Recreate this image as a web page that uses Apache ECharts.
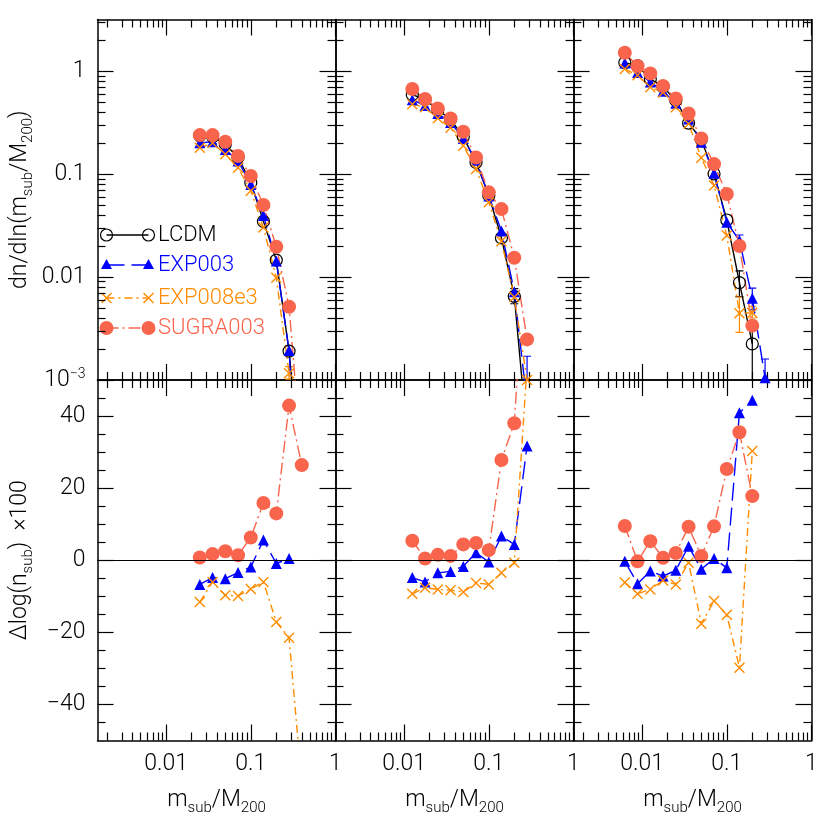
<!DOCTYPE html>
<html>
<head>
<meta charset="utf-8">
<script src="https://cdn.jsdelivr.net/npm/echarts@6/dist/echarts.min.js"></script>
<style>
html, body { margin: 0; padding: 0; background: #fff; }
#chart { width: 830px; height: 830px; }
</style>
</head>
<body>
<div id="chart"></div>
<script>
// mass bins m_sub/M200 for the three haloes
const xLeft = [0.025, 0.0354, 0.05, 0.0707, 0.1, 0.141, 0.2, 0.283, 0.4];
const xMid = [0.0125, 0.0177, 0.025, 0.0354, 0.05, 0.0707, 0.1, 0.141, 0.2, 0.283];
const xRight = [0.00625, 0.00884, 0.0125, 0.0177, 0.025, 0.0354, 0.05, 0.0707, 0.1, 0.141, 0.2, 0.283];

// dn/dln(m_sub/M200), top row
const lcdmL = [0.235, 0.230, 0.195, 0.145, 0.0828, 0.0347, 0.0146, 0.00191, 0.000088];
const exp003L = [0.201, 0.206, 0.173, 0.134, 0.0792, 0.0395, 0.0143, 0.00193, 0.00002];
const exp008L = [0.180, 0.200, 0.156, 0.115, 0.0689, 0.0302, 0.00984, 0.00116, 0.000021];
const sugraL = [0.239, 0.239, 0.206, 0.150, 0.0957, 0.050, 0.0197, 0.00515, 0.00016];

const lcdmM = [0.59, 0.53, 0.42, 0.34, 0.23, 0.13, 0.062, 0.024, 0.0065, 0.00029];
const exp003M = [0.528, 0.462, 0.388, 0.317, 0.221, 0.136, 0.0613, 0.028, 0.0072, 0.0006];
const exp008M = [0.476, 0.445, 0.349, 0.281, 0.188, 0.112, 0.0531, 0.0222, 0.0064, 0.001];
const sugraM = [0.669, 0.535, 0.434, 0.347, 0.258, 0.145, 0.0664, 0.0457, 0.0154, 0.00248];

const lcdmR = [1.21, 1.126, 0.840, 0.704, 0.519, 0.313, 0.216, 0.1006, 0.0358, 0.00883, 0.00224];
const exp003R = [1.20, 0.970, 0.784, 0.636, 0.487, 0.342, 0.204, 0.102, 0.0341, 0.0226, 0.00623, 0.00105];
const exp008R = [1.049, 0.909, 0.697, 0.619, 0.445, 0.308, 0.144, 0.0776, 0.0253, 0.00444, 0.0045];
const sugraR = [1.506, 1.118, 0.949, 0.715, 0.543, 0.388, 0.222, 0.125, 0.064, 0.020, 0.00337];

// error bars [x, low, high]
const errLcdmM = [[0.2, 0.0055, 0.0077]];
const errExp003M = [[0.283, 0.0002, 0.0017]];
const errExp008L = [[0.283, 0.00102, 0.00135]];
const errLcdmR = [[0.141, 0.00644, 0.0115], [0.2, 0.0006, 0.0037]];
const errExp003R = [[0.141, 0.019, 0.0256], [0.2, 0.0048, 0.0078], [0.283, 0.0004, 0.0016]];
const errExp008R = [[0.141, 0.0029, 0.0064], [0.2, 0.0040, 0.0052]];

// Delta log(n_sub) x 100, bottom row
const dExp003L = [-6.7, -4.8, -5.1, -3.4, -1.9, 5.6, -0.9, 0.5];
const dExp008L = [-11.6, -6.0, -9.7, -9.9, -8.0, -6.0, -17.1, -21.5, -62];
const dSugraL = [0.75, 1.7, 2.5, 1.4, 6.3, 15.9, 13.0, 42.9, 26.4];

const dExp003M = [-4.8, -6.0, -3.5, -3.1, -1.7, 2.1, -0.5, 6.7, 4.4, 31.7];
const dExp008M = [-9.3, -7.6, -8.1, -8.3, -8.8, -6.3, -6.7, -3.5, -0.7, 54];
const dSugraM = [5.4, 0.5, 1.5, 1.2, 4.4, 4.8, 2.8, 27.8, 38.0, 93];

const dExp003R = [-0.3, -6.5, -3.0, -4.4, -2.8, 3.9, -2.5, 0.5, -2.1, 40.9, 44.4];
const dExp008R = [-6.2, -9.3, -8.1, -5.6, -6.7, -0.7, -17.6, -11.3, -15.1, -29.8, 30.3];
const dSugraR = [9.5, -0.3, 5.3, 0.7, 2.0, 9.3, 1.2, 9.4, 25.3, 35.5, 17.8];

// ticks
const xMajorTicks = [0.01, 0.1, 1];
const xMinorTicks = [0.002, 0.003, 0.004, 0.005, 0.006, 0.007, 0.008, 0.009,
  0.02, 0.03, 0.04, 0.05, 0.06, 0.07, 0.08, 0.09,
  0.2, 0.3, 0.4, 0.5, 0.6, 0.7, 0.8, 0.9];
const yLogMajor = [0.001, 0.01, 0.1, 1];
const yLogMinor = [0.002, 0.003, 0.004, 0.005, 0.006, 0.007, 0.008, 0.009,
  0.02, 0.03, 0.04, 0.05, 0.06, 0.07, 0.08, 0.09,
  0.2, 0.3, 0.4, 0.5, 0.6, 0.7, 0.8, 0.9, 2, 3];
const yLinMajor = [-40, -20, 0, 20, 40];
const yLinMinor = [-45, -35, -30, -25, -15, -10, -5, 5, 10, 15, 25, 30, 35, 45];

const FONT = 'Roboto';
const FW = 300;
const C_LCDM = '#000000', C_EXP003 = '#0000ff', C_EXP008 = '#ff8c00', C_SUGRA = '#f9654c';

const lefts = [97.5, 335.5, 573.5];
const W = 238;
const tops = [19.5, 380];
const H = 360.5;

const grids = [];
for (let r = 0; r < 2; r++) for (let c = 0; c < 3; c++) {
  grids.push({ left: lefts[c], top: tops[r], width: W, height: H });
}

const frame = { show: true, onZero: false, lineStyle: { color: '#000', width: 1.5 } };
const noLine = { show: false, onZero: false };
const tickStyle = { color: '#000', width: 1.2 };
const subRich = {
  a: { fontSize: 23, fontFamily: FONT, fontWeight: FW, color: '#000' },
  s: { fontSize: 15, fontFamily: FONT, fontWeight: FW, color: '#000', padding: [16, 0, 0, 0] }
};

function fmtX(v) {
  if (v > 0.5) return '1';
  if (v > 0.05) return '0.1';
  return '0.01';
}
function fmtYLog(v) {
  if (v > 0.5) return '1';
  if (v > 0.05) return '0.1';
  if (v > 0.005) return '0.01';
  return '{b|10}{p|−3}';
}
function fmtYLin(v) {
  return v < 0 ? '−' + (-v) : String(v);
}

const xAxes = [], yAxes = [];
grids.forEach((g, gi) => {
  const row = gi < 3 ? 0 : 1, col = gi % 3;
  const xb = { type: 'log', gridIndex: gi, min: 0.00155, max: 1, splitLine: { show: false } };
  xAxes.push({
    ...xb, position: 'bottom', axisLine: frame,
    axisTick: { inside: true, length: 16, customValues: xMajorTicks, lineStyle: tickStyle },
    axisLabel: { show: row === 1, customValues: xMajorTicks, formatter: fmtX, margin: 12,
      fontSize: 23, fontFamily: FONT, fontWeight: FW, color: '#000' },
    name: row === 1 ? '{a|m}{s|sub}{a|/M}{s|200}' : '',
    nameLocation: 'middle', nameGap: 44, nameTextStyle: { rich: subRich }
  });
  xAxes.push({
    ...xb, position: 'bottom', axisLine: noLine,
    axisTick: { inside: true, length: 8, customValues: xMinorTicks, lineStyle: tickStyle },
    axisLabel: { show: false }
  });
  xAxes.push({
    ...xb, position: 'top', axisLine: frame,
    axisTick: { inside: true, length: 16, customValues: xMajorTicks, lineStyle: tickStyle },
    axisLabel: { show: false }
  });
  xAxes.push({
    ...xb, position: 'top', axisLine: noLine,
    axisTick: { inside: true, length: 8, customValues: xMinorTicks, lineStyle: tickStyle },
    axisLabel: { show: false }
  });

  const yb = row === 0
    ? { type: 'log', gridIndex: gi, min: 0.001, max: 3.17, splitLine: { show: false } }
    : { type: 'value', gridIndex: gi, min: -50, max: 50, splitLine: { show: false } };
  const major = row === 0 ? yLogMajor : yLinMajor;
  const minor = row === 0 ? yLogMinor : yLinMinor;
  yAxes.push({
    ...yb, position: 'left', axisLine: frame,
    axisTick: { inside: true, length: 16, customValues: major, lineStyle: tickStyle },
    axisLabel: { show: col === 0, customValues: major, formatter: row === 0 ? fmtYLog : fmtYLin,
      margin: 12, fontSize: 23, fontFamily: FONT, fontWeight: FW, color: '#000',
      rich: { b: { fontSize: 23, fontFamily: FONT, fontWeight: FW, color: '#000' },
              p: { fontSize: 14, fontFamily: FONT, fontWeight: FW, color: '#000', padding: [0, 0, 12, 0] } } },
    name: col !== 0 ? '' : (row === 0
      ? '{a|dn/dln(m}{s|sub}{a|/M}{s|200}{a|)}'
      : '{a|Δlog(n}{s|sub}{a|)  ×100}'),
    nameLocation: 'middle', nameRotate: 90, nameGap: 62, nameTextStyle: { rich: subRich }
  });
  yAxes.push({
    ...yb, position: 'left', axisLine: noLine,
    axisTick: { inside: true, length: 8, customValues: minor, lineStyle: tickStyle },
    axisLabel: { show: false }
  });
  yAxes.push({
    ...yb, position: 'right', axisLine: frame,
    axisTick: { inside: true, length: 16, customValues: major, lineStyle: tickStyle },
    axisLabel: { show: false }
  });
  yAxes.push({
    ...yb, position: 'right', axisLine: noLine,
    axisTick: { inside: true, length: 8, customValues: minor, lineStyle: tickStyle },
    axisLabel: { show: false }
  });
});

const styles = {
  LCDM: { symbol: 'circle', symbolSize: 12,
    itemStyle: { color: 'rgba(0,0,0,0)', borderColor: C_LCDM, borderWidth: 1.2 },
    lineStyle: { color: C_LCDM, width: 1.4, type: 'solid' } },
  EXP003: { symbol: 'triangle', symbolSize: 11,
    itemStyle: { color: C_EXP003 },
    lineStyle: { color: C_EXP003, width: 1.4, type: [18, 7] } },
  EXP008e3: { symbol: 'path://M0,0L10,10M10,0L0,10', symbolSize: 10,
    itemStyle: { color: C_EXP008, borderColor: C_EXP008, borderWidth: 1.4 },
    lineStyle: { color: C_EXP008, width: 1.4, type: [8, 4, 2, 4] } },
  SUGRA003: { symbol: 'circle', symbolSize: 14,
    itemStyle: { color: C_SUGRA },
    lineStyle: { color: C_SUGRA, width: 1.4, type: [12, 4, 2, 4] } }
};

const series = [];
function addLine(name, gi, xs, ys) {
  series.push({
    type: 'line', name, xAxisIndex: 4 * gi, yAxisIndex: 4 * gi,
    data: ys.map((y, i) => [xs[i], y]), clip: true, animation: false,
    ...styles[name]
  });
}
function addErr(gi, errs, color) {
  series.push({
    type: 'custom', xAxisIndex: 4 * gi, yAxisIndex: 4 * gi, clip: true, animation: false,
    data: errs, encode: { x: 0, y: [1, 2] },
    renderItem(params, api) {
      const lo = api.coord([api.value(0), api.value(1)]);
      const hi = api.coord([api.value(0), api.value(2)]);
      const st = { stroke: color, lineWidth: 1.2 };
      return { type: 'group', children: [
        { type: 'line', shape: { x1: lo[0], y1: lo[1], x2: hi[0], y2: hi[1] }, style: st },
        { type: 'line', shape: { x1: lo[0] - 4, y1: lo[1], x2: lo[0] + 4, y2: lo[1] }, style: st },
        { type: 'line', shape: { x1: hi[0] - 4, y1: hi[1], x2: hi[0] + 4, y2: hi[1] }, style: st }
      ] };
    }
  });
}

// top row
addErr(0, errExp008L, C_EXP008);
addLine('LCDM', 0, xLeft, lcdmL);
addLine('EXP003', 0, xLeft, exp003L);
addLine('EXP008e3', 0, xLeft, exp008L);
addLine('SUGRA003', 0, xLeft, sugraL);

addErr(1, errLcdmM, C_LCDM);
addErr(1, errExp003M, C_EXP003);
addLine('LCDM', 1, xMid, lcdmM);
addLine('EXP003', 1, xMid, exp003M);
addLine('EXP008e3', 1, xMid, exp008M);
addLine('SUGRA003', 1, xMid, sugraM);

addErr(2, errLcdmR, C_LCDM);
addErr(2, errExp003R, C_EXP003);
addErr(2, errExp008R, C_EXP008);
addLine('LCDM', 2, xRight, lcdmR);
addLine('EXP003', 2, xRight, exp003R);
addLine('EXP008e3', 2, xRight, exp008R);
addLine('SUGRA003', 2, xRight, sugraR);

// bottom row
[[3, xLeft, dExp003L, dExp008L, dSugraL],
 [4, xMid, dExp003M, dExp008M, dSugraM],
 [5, xRight, dExp003R, dExp008R, dSugraR]].forEach(([gi, xs, a, b, s]) => {
  addLine('EXP003', gi, xs, a);
  series[series.length - 1].markLine = {
    silent: true, symbol: 'none', animation: false, label: { show: false },
    lineStyle: { color: '#000', type: 'solid', width: 1.2 },
    data: [{ yAxis: 0 }]
  };
  addLine('EXP008e3', gi, xs, b);
  addLine('SUGRA003', gi, xs, s);
});

// legend in the top-left panel
const legendRows = [
  { name: 'LCDM', y: 235, color: C_LCDM, dash: null, sym: 'open' },
  { name: 'EXP003', y: 265, color: C_EXP003, dash: [18, 7], sym: 'tri' },
  { name: 'EXP008e3', y: 298, color: C_EXP008, dash: [8, 4, 2, 4], sym: 'cross' },
  { name: 'SUGRA003', y: 328, color: C_SUGRA, dash: [12, 4, 2, 4], sym: 'dot' }
];
const graphic = [];
legendRows.forEach(it => {
  const xa = 106.5, xb = 148.5;
  graphic.push({ type: 'line', shape: { x1: xa, y1: it.y, x2: xb, y2: it.y },
    style: { stroke: it.color, lineWidth: 1.4, lineDash: it.dash } });
  [xa, xb].forEach(x => {
    if (it.sym === 'open') graphic.push({ type: 'circle', shape: { cx: x, cy: it.y, r: 6 },
      style: { fill: 'none', stroke: it.color, lineWidth: 1.2 } });
    if (it.sym === 'dot') graphic.push({ type: 'circle', shape: { cx: x, cy: it.y, r: 7 },
      style: { fill: it.color } });
    if (it.sym === 'tri') graphic.push({ type: 'polygon',
      shape: { points: [[x, it.y - 6], [x - 5.5, it.y + 4], [x + 5.5, it.y + 4]] },
      style: { fill: it.color } });
    if (it.sym === 'cross') {
      graphic.push({ type: 'line', shape: { x1: x - 5, y1: it.y - 5, x2: x + 5, y2: it.y + 5 },
        style: { stroke: it.color, lineWidth: 1.4 } });
      graphic.push({ type: 'line', shape: { x1: x - 5, y1: it.y + 5, x2: x + 5, y2: it.y - 5 },
        style: { stroke: it.color, lineWidth: 1.4 } });
    }
  });
  graphic.push({ type: 'text', x: 158, y: it.y,
    style: { text: it.name, fill: it.color, fontSize: 22, fontFamily: FONT, fontWeight: FW,
      verticalAlign: 'middle' } });
});

const chart = echarts.init(document.getElementById('chart'));
chart.setOption({
  backgroundColor: '#fff',
  animation: false,
  textStyle: { fontFamily: FONT },
  grid: grids,
  xAxis: xAxes,
  yAxis: yAxes,
  series,
  graphic
});
</script>
</body>
</html>
